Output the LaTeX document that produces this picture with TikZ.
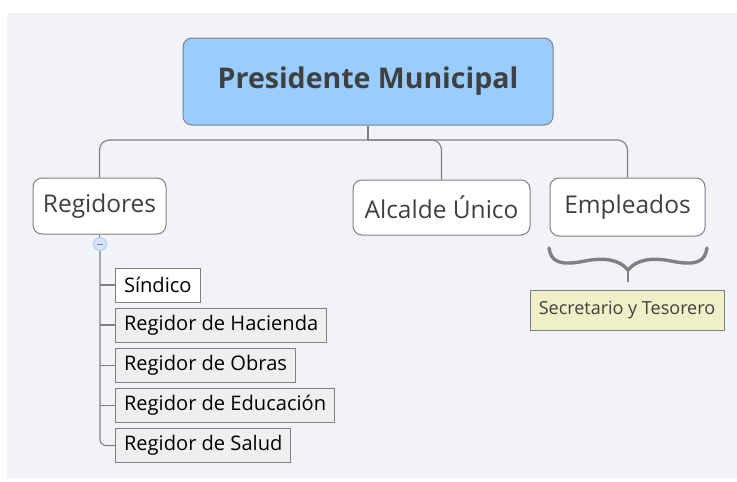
\documentclass[tikz,border=0pt]{standalone}
\usepackage{fontspec}
\setmainfont{Open Sans}
\usetikzlibrary{calc}
\definecolor{bgc}{HTML}{F2F3F8}
\definecolor{pblue}{HTML}{99CCFF}
\definecolor{bord}{HTML}{808080}
\definecolor{txt}{HTML}{404040}
\definecolor{childfill}{HTML}{EFEFEF}
\definecolor{yel}{HTML}{F0F0C8}
\definecolor{collf}{HTML}{D6E4FF}
\definecolor{collb}{HTML}{A8C4F0}
\begin{document}
\begin{tikzpicture}[x=1pt,y=-1pt,
  topbox/.style={draw=bord,line width=1pt,rounded corners=9pt,fill=white,text=txt,inner sep=0pt},
  childbox/.style={draw=bord,line width=1pt,fill=childfill,text=black,inner xsep=8.5pt,inner ysep=0pt,anchor=west,minimum height=34pt,font=\fontsize{20.1}{23}\selectfont},
  conn/.style={draw=bord,line width=1.1pt}]
\useasboundingbox (0,0) rectangle (737,482);
\fill[white] (0,0) rectangle (737,482);
\fill[bgc] (7,13) rectangle (737,478);
% main nodes
\node[topbox,fill=pblue,minimum width=370pt,minimum height=87pt,font=\bfseries\fontsize{28.5}{32}\selectfont] (pres) at (368,81.5) {Presidente Municipal};
\node[topbox,minimum width=133pt,minimum height=56pt,font=\fontsize{24.5}{28}\selectfont] (reg) at (99.5,206) {Regidores};
\node[topbox,minimum width=177pt,minimum height=55pt,font=\fontsize{24.5}{28}\selectfont] (alc) at (441.5,207.5) {Alcalde Único};
\node[topbox,minimum width=155pt,minimum height=58pt,font=\fontsize{24.5}{28}\selectfont] (emp) at (627.5,207) {Empleados};
\node[draw=bord,line width=1pt,fill=yel,text=txt,inner sep=0pt,minimum width=194pt,minimum height=40pt,font=\fontsize{18}{21}\selectfont] (sec) at (627,310) {Secretario y Tesorero};
% top connectors
\coordinate (hub) at (pres.south |- 0,140);
\draw[conn] (pres.south) -- (hub);
\draw[conn,rounded corners=10pt] (hub) -| (reg.north);
\draw[conn,rounded corners=10pt] (hub) -| (alc.north);
\draw[conn,rounded corners=10pt] (hub) -| (emp.north);
% children
\node[childbox,fill=white] (c1) at (115,285) {Síndico};
\node[childbox] (c2) at (115,325) {Regidor de Hacienda};
\node[childbox] (c3) at (115,365.5) {Regidor de Obras};
\node[childbox] (c4) at (115,405.5) {Regidor de Educación};
\node[childbox] (c5) at (115,445.5) {Regidor de Salud};
\coordinate (col) at (100,244);
\draw[conn] (reg.south) -- (col);
\draw[conn,rounded corners=6pt] (col) -- (col |- c5.west) -- (c5.west);
\foreach \c in {c1,c2,c3,c4} \draw[conn] (col |- \c.west) -- (\c.west);
\draw[collb,fill=collf,line width=0.8pt] (col) circle (6.5pt);
\draw[bord,line width=0.8pt] ($(col)+(-3,0)$) -- ($(col)+(3,0)$);
% brace
\coordinate (bl) at (549,248);
\coordinate (br) at (707,248);
\coordinate (bt) at (628,270);
\draw[bord,line width=3.4pt,line cap=round] (bl) .. controls (551,262) and (560,266) .. (585,261) .. controls (605,257) and (620,260) .. (bt);
\draw[bord,line width=3.4pt,line cap=round] (br) .. controls (705,262) and (696,266) .. (671,261) .. controls (651,257) and (636,260) .. (bt);
\draw[bord,line width=1.4pt] (bt) -- (628,282);
\end{tikzpicture}
\end{document}
